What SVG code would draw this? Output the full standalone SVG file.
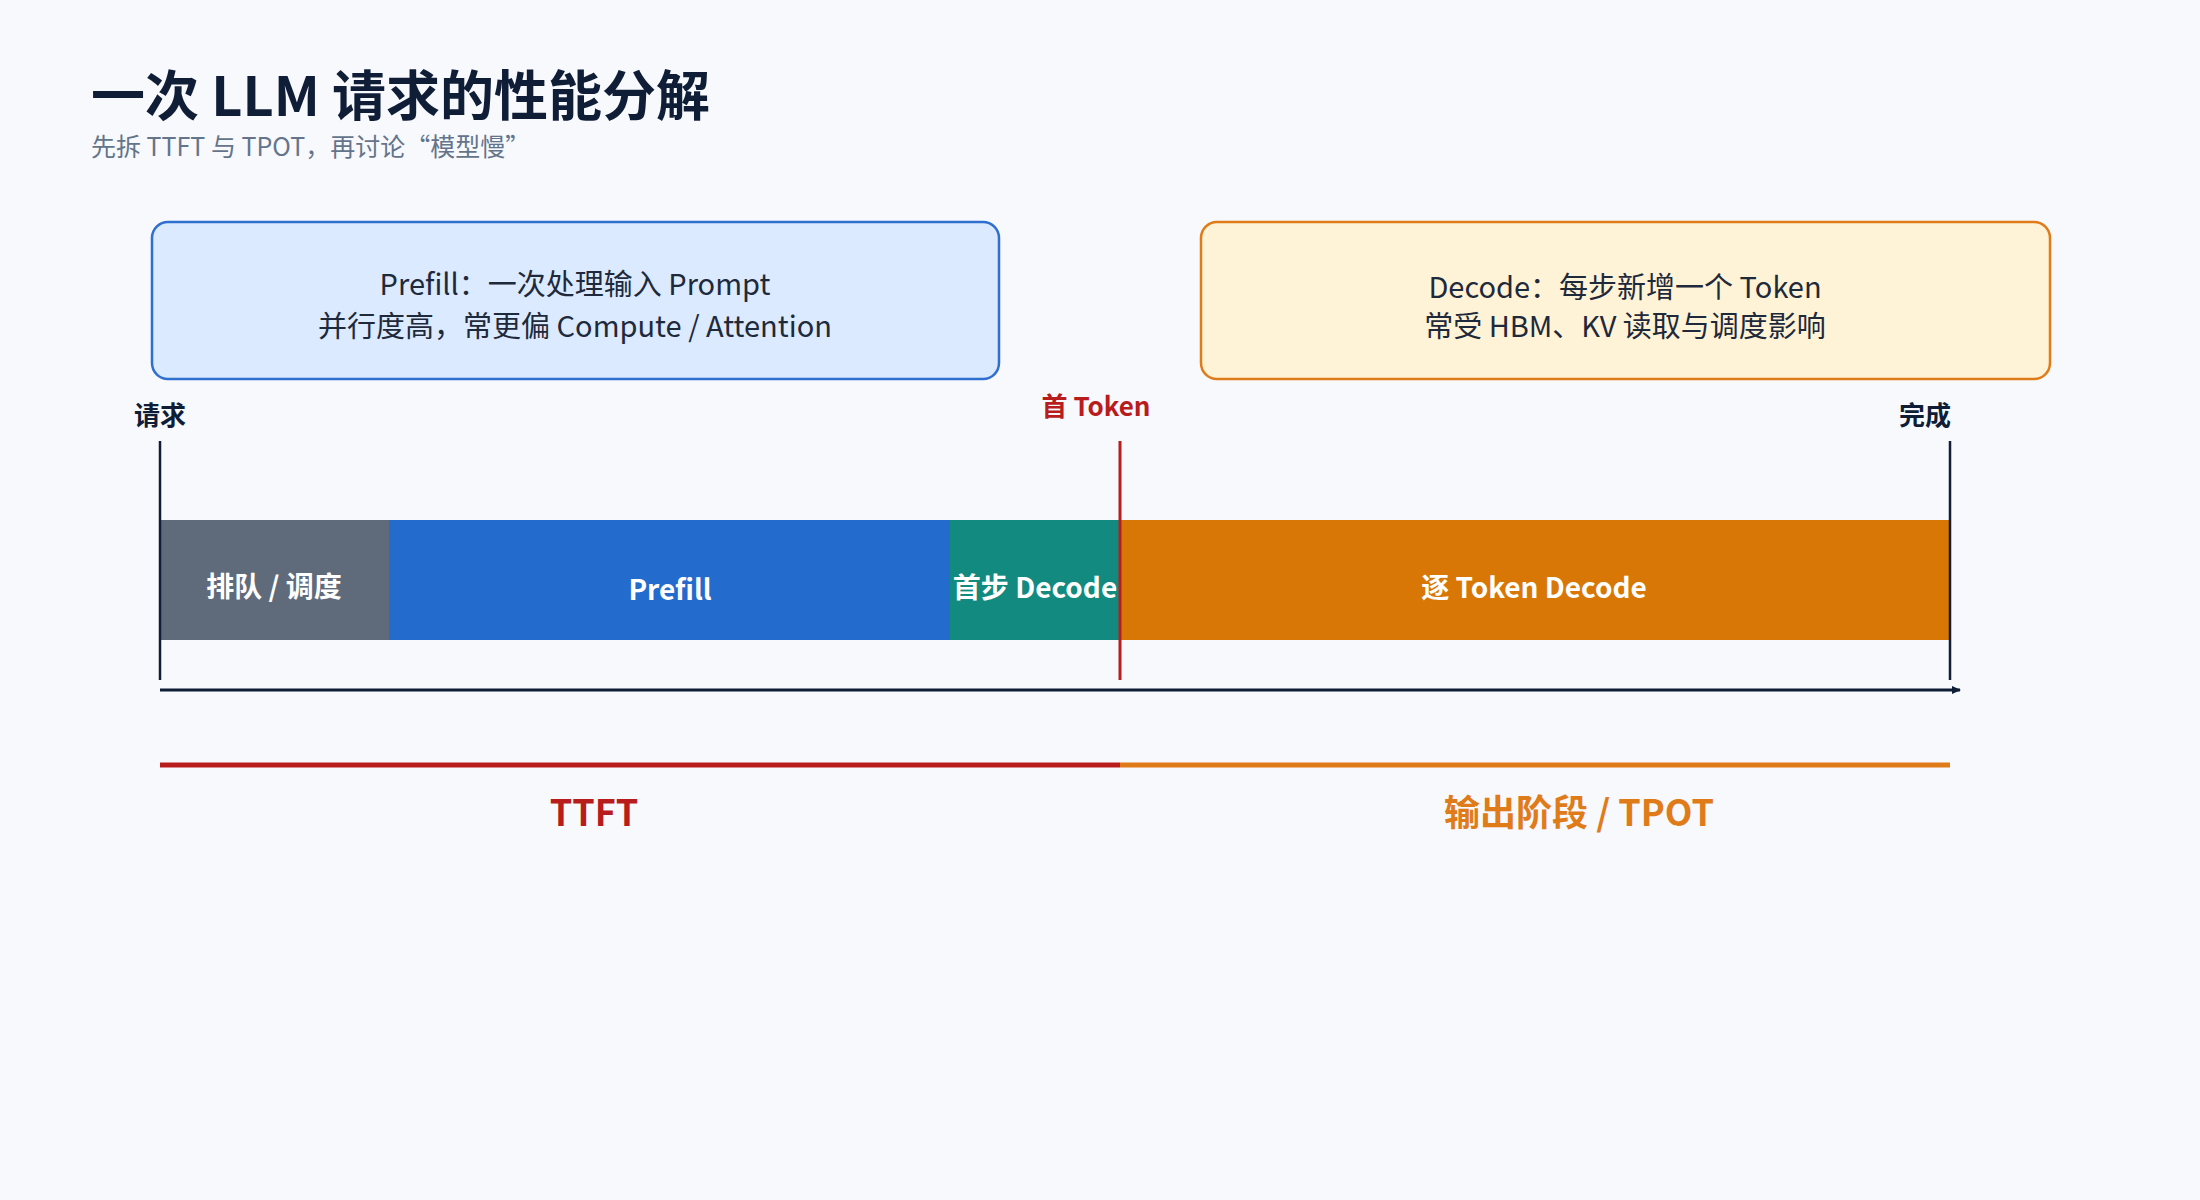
<svg xmlns="http://www.w3.org/2000/svg" width="2200" height="1200" viewBox="0 0 2200 1200">
<style>
text{font-family:"Noto Sans CJK SC",sans-serif}
.box{font-size:29px;fill:#1e293b;text-anchor:middle}
.seg{font-size:28px;font-weight:bold;fill:#fff;text-anchor:middle}
.lab{font-size:26px;font-weight:bold;fill:#0f1e36;text-anchor:middle}
.big{font-size:36px;font-weight:bold;text-anchor:middle}
</style>
<defs><marker id="ar" markerWidth="10" markerHeight="10" refX="8" refY="5" orient="auto" markerUnits="userSpaceOnUse"><path d="M0,1 L9,5 L0,9 z" fill="#0f1e36"/></marker></defs>
<rect width="2200" height="1200" fill="#f7f9fc"/>
<text x="91" y="116" font-size="54" font-weight="bold" fill="#0f1e36">一次 LLM 请求的性能分解</text>
<text x="91" y="156" font-size="25" fill="#64748b">先拆 TTFT 与 TPOT，再讨论“模型慢”</text>
<g id="prefill-note"><rect x="152" y="222" width="847" height="157" rx="16" fill="#dbeafe" stroke="#2f6fd0" stroke-width="2.5"/>
<text class="box" x="575" y="295">Prefill：一次处理输入 Prompt</text><text class="box" x="575" y="337">并行度高，常更偏 Compute / Attention</text></g>
<g id="decode-note"><rect x="1201" y="222" width="849" height="157" rx="16" fill="#fef3d6" stroke="#e07b1a" stroke-width="2.5"/>
<text class="box" x="1625" y="298">Decode：每步新增一个 Token</text><text class="box" x="1625" y="337">常受 HBM、KV 读取与调度影响</text></g>
<g id="queue"><rect x="160" y="520" width="229" height="120" fill="#5f6b7a"/><text class="seg" x="274" y="597">排队 / 调度</text></g>
<g id="prefill"><rect x="389" y="520" width="561" height="120" fill="#236bcd"/><text class="seg" x="670" y="600">Prefill</text></g>
<g id="first-decode"><rect x="950" y="520" width="170" height="120" fill="#138a80"/><text class="seg" x="1035" y="598">首步 Decode</text></g>
<g id="decode"><rect x="1120" y="520" width="830" height="120" fill="#d97706"/><text class="seg" x="1534" y="598">逐 Token Decode</text></g>
<g id="connectors">
<line x1="160" y1="441" x2="160" y2="680" stroke="#0f1e36" stroke-width="2.5"/>
<line x1="1950" y1="441" x2="1950" y2="680" stroke="#0f1e36" stroke-width="2.5"/>
<line x1="1120" y1="441" x2="1120" y2="680" stroke="#b91c1c" stroke-width="3"/>
<line x1="160" y1="690" x2="1960" y2="690" stroke="#0f1e36" stroke-width="3" marker-end="url(#ar)"/>
<line x1="160" y1="765" x2="1120" y2="765" stroke="#b91c1c" stroke-width="5"/>
<line x1="1120" y1="765" x2="1950" y2="765" stroke="#e07b1a" stroke-width="5"/>
</g>
<g id="labels">
<text class="lab" x="160" y="425">请求</text>
<text class="lab" x="1925" y="425">完成</text>
<text class="lab" x="1096" y="416" style="fill:#b91c1c">首 Token</text>
<text class="big" x="594" y="826" fill="#b91c1c">TTFT</text>
<text class="big" x="1579" y="826" fill="#e07b1a">输出阶段 / TPOT</text>
</g>
</svg>
